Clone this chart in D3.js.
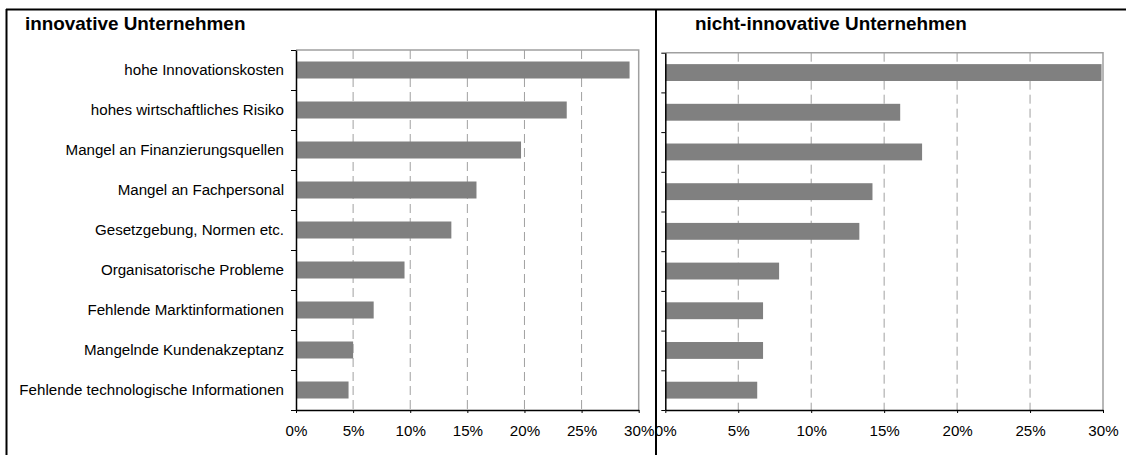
<!DOCTYPE html>
<html>
<head>
<meta charset="utf-8">
<script src="https://cdn.jsdelivr.net/npm/d3@7"></script>
<style>
  body { margin: 0; background: #fff; }
  text { font-family: "Liberation Sans", Arial, sans-serif; fill: #000; }
</style>
</head>
<body>
<svg id="chart" width="1126" height="455"></svg>
<script>
// categories, top to bottom
const categories = [
  "hohe Innovationskosten",
  "hohes wirtschaftliches Risiko",
  "Mangel an Finanzierungsquellen",
  "Mangel an Fachpersonal",
  "Gesetzgebung, Normen etc.",
  "Organisatorische Probleme",
  "Fehlende Marktinformationen",
  "Mangelnde Kundenakzeptanz",
  "Fehlende technologische Informationen"
];
// shares (fraction of firms)
const innovativeValues = [0.292, 0.237, 0.197, 0.158, 0.136, 0.095, 0.068, 0.050, 0.046];
const nonInnovativeValues = [0.299, 0.161, 0.176, 0.142, 0.133, 0.078, 0.067, 0.067, 0.063];
const xTicks = [0, 0.05, 0.10, 0.15, 0.20, 0.25, 0.30];
const panelTitles = ["innovative Unternehmen", "nicht-innovative Unternehmen"];

const svg = d3.select("#chart");
const barColor = "#808080";
const stretch = 1.08; // the source text is a bit wider than Arial

// frame lines
svg.append("line").attr("x1", 6).attr("x2", 1126).attr("y1", 9.5).attr("y2", 9.5)
  .attr("stroke", "#000").attr("stroke-width", 2);
svg.append("line").attr("x1", 6.5).attr("x2", 6.5).attr("y1", 9).attr("y2", 455)
  .attr("stroke", "#000").attr("stroke-width", 2);
svg.append("line").attr("x1", 656).attr("x2", 656).attr("y1", 9).attr("y2", 455)
  .attr("stroke", "#000").attr("stroke-width", 2);

function panel(opts) {
  const {values, left, right, top, bottom, title, titleX, showLabels, tickLen} = opts;
  const g = svg.append("g");

  const x = d3.scaleLinear().domain([0, 0.30]).range([left, right]);
  const y = d3.scaleBand().domain(categories).range([top, bottom]).padding(0);
  const yEdge = d3.scaleLinear().domain([0, categories.length]).range([top, bottom]);

  // plot box (top & right)
  g.append("path")
    .attr("d", `M${left},${top}H${right}V${bottom}`)
    .attr("fill", "none").attr("stroke", "#a0a0a0").attr("stroke-width", 1.5);

  // dashed gridlines
  g.append("g").selectAll("line")
    .data(xTicks.slice(1, -1))
    .join("line")
    .attr("x1", d => x(d)).attr("x2", d => x(d))
    .attr("y1", top).attr("y2", bottom)
    .attr("stroke", "#a0a0a0").attr("stroke-width", 1)
    .attr("stroke-dasharray", "9,5");

  // bars
  g.append("g").selectAll("rect")
    .data(categories)
    .join("rect")
    .attr("x", x(0))
    .attr("y", d => y(d) + y.bandwidth() * 0.2875)
    .attr("width", (d, i) => x(values[i]) - x(0))
    .attr("height", y.bandwidth() * 0.425)
    .attr("fill", barColor);

  // y axis (ticks at category boundaries)
  const yAxis = g.append("g")
    .attr("transform", `translate(${left},0)`)
    .call(d3.axisLeft(yEdge).tickValues(d3.range(categories.length + 1))
      .tickSize(tickLen).tickSizeOuter(0).tickFormat(""));
  yAxis.select(".domain").attr("stroke", "#000").attr("stroke-width", 1.5);
  yAxis.selectAll(".tick line").attr("stroke", "#000");

  // x axis
  const xAxis = g.append("g")
    .attr("transform", `translate(0,${bottom})`)
    .call(d3.axisBottom(x).tickValues(xTicks).tickSize(3).tickSizeOuter(0)
      .tickFormat(d3.format(".0%")));
  xAxis.select(".domain").attr("stroke", "#000").attr("stroke-width", 1.5);
  xAxis.selectAll(".tick line").attr("stroke", "#000");
  xAxis.selectAll(".tick text")
    .attr("y", null).attr("dy", null)
    .attr("transform", `translate(0,26) scale(${stretch},1)`)
    .style("font-size", "14px").style("font-family", "Liberation Sans, Arial, sans-serif")
    .attr("fill", "#000");

  // category labels
  if (showLabels) {
    g.append("g").selectAll("text")
      .data(categories)
      .join("text")
      .attr("transform", d => `translate(${left - 12},${y(d) + y.bandwidth() / 2}) scale(${stretch},1)`)
      .attr("dy", "0.36em")
      .attr("text-anchor", "end")
      .style("font-size", "14px")
      .text(d => d);
  }

  // panel title
  svg.append("text")
    .attr("transform", `translate(${titleX},30) scale(${stretch},1)`)
    .style("font-size", "17.5px").style("font-weight", "bold")
    .text(title);
}

panel({values: innovativeValues, left: 296, right: 638.7, top: 50, bottom: 410,
  title: panelTitles[0], titleX: 25, showLabels: true, tickLen: 5});
panel({values: nonInnovativeValues, left: 665.3, right: 1103, top: 52.7, bottom: 410,
  title: panelTitles[1], titleX: 695, showLabels: false, tickLen: 4});
</script>
</body>
</html>
